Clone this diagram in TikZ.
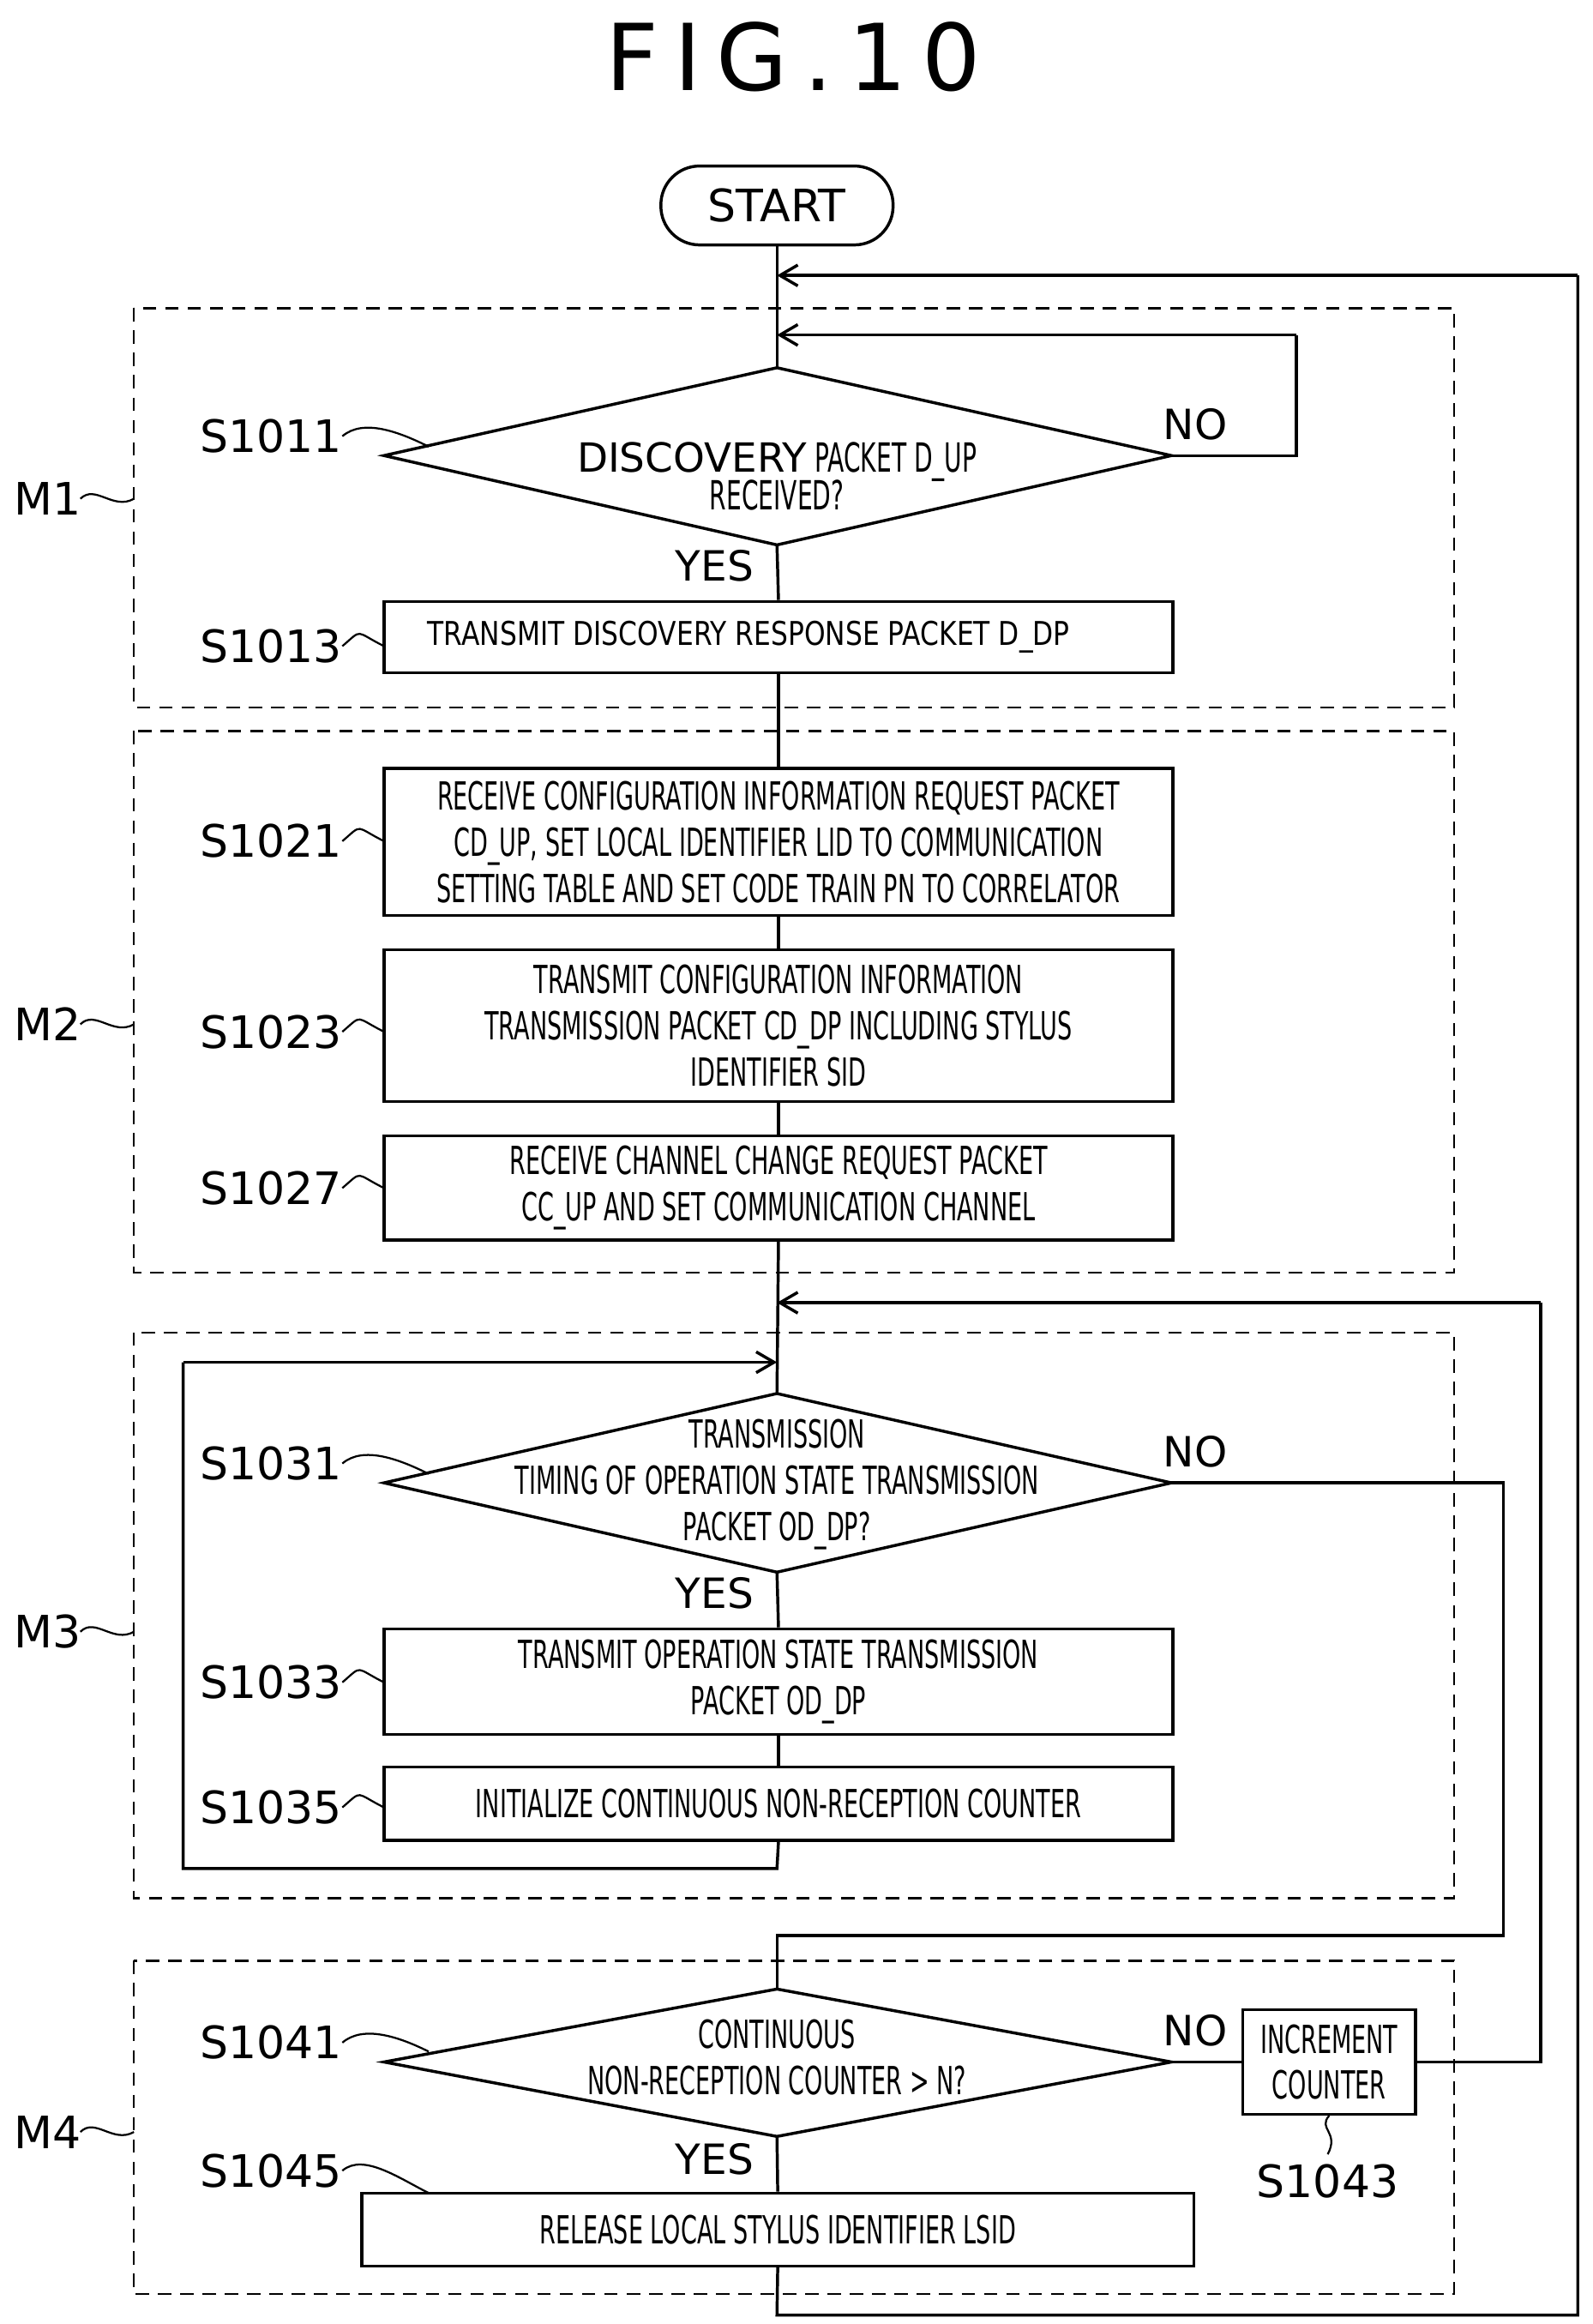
\documentclass[tikz,border=0pt]{standalone}
\usepackage{fontspec}
\setmainfont{DejaVu Sans}
\newfontfamily\nar[FakeStretch=0.6]{DejaVu Sans}
\newfontfamily\midf[FakeStretch=0.82]{DejaVu Sans}
\usetikzlibrary{arrows.meta}
\begin{document}
\begin{tikzpicture}[x=1pt,y=-1pt,line width=2pt,
  box/.style={draw,minimum height=#1,align=center,font=\nar\fontsize{26}{31}\selectfont,inner sep=0pt},
  dia/.style={draw,inner sep=0pt},
  grp/.style={draw,dash pattern=on 9pt off 6pt,line width=1.3pt},
  lab/.style={font=\fontsize{30}{34}\selectfont},
  yn/.style={font=\fontsize{28}{32}\selectfont},
  arr/.style={-{Straight Barb[length=12pt,width=14pt,line width=2pt]}}]
\useasboundingbox (0,0) rectangle (1070,1561);
\node[font=\fontsize{62}{70}\selectfont] (title) at (533,38) {F\,I\,G\,.\,1\,0};
% groups
\draw[grp] (90,207) rectangle (977,475);
\draw[grp] (90,491) rectangle (977,855);
\draw[grp] (90,895) rectangle (977,1275);
\draw[grp] (90,1317) rectangle (977,1541);
% start
\node[draw,rounded corners=26pt,minimum width=156pt,minimum height=53pt,font=\fontsize{30}{34}\selectfont] (start) at (522,138) {START};
% diamonds
\coordinate (d1t) at (522,247); \coordinate (d1b) at (522,366);
\coordinate (d1l) at (258,306); \coordinate (d1r) at (787,306);
\draw (d1t)--(d1r)--(d1b)--(d1l)--cycle;
\node (d1) at (522,320) [align=center] {{\fontsize{27}{30}\selectfont DISCOVERY}{\nar\fontsize{27}{30}\selectfont\ PACKET D\_UP}\\[-2pt]{\nar\fontsize{27}{30}\selectfont RECEIVED?}};
\coordinate (d3t) at (522,936); \coordinate (d3b) at (522,1056);
\coordinate (d3l) at (258,996); \coordinate (d3r) at (787,996);
\draw (d3t)--(d3r)--(d3b)--(d3l)--cycle;
\node (d3) at (522,997) [align=center,font=\nar\fontsize{26}{31}\selectfont] {TRANSMISSION\\TIMING OF OPERATION STATE TRANSMISSION\\PACKET OD\_DP?};
\coordinate (d4t) at (522,1336); \coordinate (d4b) at (522,1435);
\coordinate (d4l) at (258,1385); \coordinate (d4r) at (787,1385);
\draw (d4t)--(d4r)--(d4b)--(d4l)--cycle;
\node (d4) at (522,1382) [align=center,font=\nar\fontsize{26}{31}\selectfont] {CONTINUOUS\\NON-RECEPTION COUNTER > N?};
% boxes
\node[box=48pt,minimum width=530pt,font=\midf\fontsize{22}{26}\selectfont] (b13) at (523,428) {\hspace*{-40pt}TRANSMIT DISCOVERY RESPONSE PACKET D\_DP};
\node[box=99pt,minimum width=530pt] (b21) at (523,565.5) {RECEIVE CONFIGURATION INFORMATION REQUEST PACKET\\CD\_UP, SET LOCAL IDENTIFIER LID TO COMMUNICATION\\SETTING TABLE AND SET CODE TRAIN PN TO CORRELATOR};
\node[box=102pt,minimum width=530pt] (b23) at (523,689) {TRANSMIT CONFIGURATION INFORMATION\\TRANSMISSION PACKET CD\_DP INCLUDING STYLUS\\IDENTIFIER SID};
\node[box=70pt,minimum width=530pt] (b27) at (523,798) {RECEIVE CHANNEL CHANGE REQUEST PACKET\\CC\_UP AND SET COMMUNICATION CHANNEL};
\node[box=71pt,minimum width=530pt] (b33) at (523,1129.5) {TRANSMIT OPERATION STATE TRANSMISSION\\PACKET OD\_DP};
\node[box=49pt,minimum width=530pt] (b35) at (523,1211.5) {INITIALIZE CONTINUOUS NON-RECEPTION COUNTER};
\node[box=70pt,minimum width=116pt] (b43) at (893,1385) {INCREMENT\\COUNTER};
\node[box=49pt,minimum width=559pt] (b45) at (522.5,1497.5) {RELEASE LOCAL STYLUS IDENTIFIER LSID};
% connectors
\coordinate (j0) at (522,185); \coordinate (j1) at (522,225);
\coordinate (j3) at (522,875); \coordinate (j31) at (522,915);
\draw (start.south)--(d1t);
\draw (d1r)--(871,306)--(871,225);
\draw[arr] (871,225)--(j1);
\draw (d1b)--(b13.north);
\draw (b13.south)--(b21.north);
\draw (b21.south)--(b23.north);
\draw (b23.south)--(b27.north);
\draw (b27.south)--(d3t);
\draw (d3b)--(b33.north);
\draw (b33.south)--(b35.north);
\draw (b35.south)--(522,1255)--(123,1255)--(123,915);
\draw[arr] (123,915)--(j31);
\draw (d3r)--(1010,996)--(1010,1300)--(522,1300)--(d4t);
\draw (d4r)--(b43.west);
\draw (b43.east)--(1035,1385)--(1035,875);
\draw[arr] (1035,875)--(j3);
\draw (d4b)--(b45.north);
\draw (b45.south)--(522,1555)--(1060,1555)--(1060,185);
\draw[arr] (1060,185)--(j0);
% yes/no
\node[yn] (n1) at (803,285) {NO};
\node[yn] (y1) at (480,380) {YES};
\node[yn] (n3) at (803,975) {NO};
\node[yn] (y3) at (480,1070) {YES};
\node[yn] (n4) at (803,1364) {NO};
\node[yn] (y4) at (480,1450) {YES};
% step labels with squiggles
\foreach \n/\x/\y/\ex/\ey in {S1011/182/293/288/300, S1013/182/434/258/434, S1021/182/565/258/565, S1023/182/693/258/693, S1027/182/798/258/798, S1031/182/983/288/990, S1033/182/1130/258/1130, S1035/182/1214/258/1214, S1041/182/1372/288/1378, S1045/182/1458/288/1473}{
  \node[lab,anchor=center] (\n) at (\x,\y) {\n};
  \draw[line width=1.3pt] (\x+48,\y) .. controls (\x+62,\y-12) and (\ex-20,\ey-10) .. (\ex,\ey);
}
\node[lab] (S1043) at (892,1465) {S1043};
\draw[line width=1.3pt] (b43.south) .. controls (885,1430) and (900,1432) .. (892,1447);
\foreach \n/\y in {M1/335, M2/688, M3/1096, M4/1432}{
  \node[lab] (\n) at (32,\y) {\n};
  \draw[line width=1.3pt] (54,\y) .. controls (64,\y-10) and (76,\y+8) .. (90,\y);
}
\end{tikzpicture}
\end{document}
